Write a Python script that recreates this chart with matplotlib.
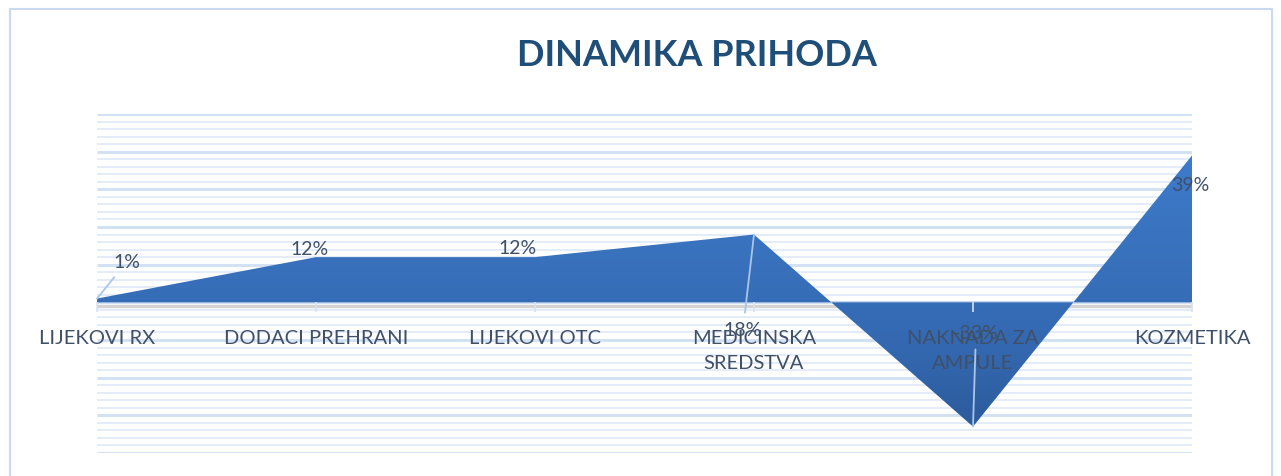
import numpy as np
import matplotlib
matplotlib.use("Agg")
import matplotlib.pyplot as plt
from matplotlib.patches import Rectangle

# ---------------------------
# Data
# ---------------------------
categories = ["LIJEKOVI RX", "DODACI PREHRANI", "LIJEKOVI OTC",
              "MEDICINSKA\nSREDSTVA", "NAKNADA ZA\nAMPULE", "KOZMETIKA"]
values = [1, 12, 12, 18, -33, 39]
value_labels = ["1%", "12%", "12%", "18%", "-33%", "39%"]
# label offsets in pixels (dx, dy) from the data point, as Excel placed them
label_offsets = [(30, 37), (-6, 9), (-17, 10), (-11, -95), (3, 94), (-2, -29)]

title_color = "#1F4E79"
text_color = "#3F5068"
grid_minor = "#E3ECF8"
grid_major = "#D2E1F4"
leader_color = "#A9C6EA"

plt.rcParams["font.family"] = ["Lato", "DejaVu Sans"]

fig = plt.figure(figsize=(12.81, 4.77), dpi=100)
ax = fig.add_axes([97 / 1281, 1 - 454 / 477, (1192 - 97) / 1281, (454 - 115) / 477])

x = np.arange(len(values))

# ---------------------------
# Grid (drawn by hand so it sits below the area but tick labels stay on top)
# ---------------------------
ax.set_ylim(-40, 50)
ax.set_xlim(0, len(values) - 1)
minor_y = [y for y in np.arange(-40, 51, 2) if y % 10 != 0]
major_y = np.arange(-40, 51, 10)
ax.hlines(minor_y, 0, len(values) - 1, color=grid_minor, lw=1.4, zorder=0.5)
ax.hlines(major_y, 0, len(values) - 1, color=grid_major, lw=2.2, zorder=0.6)
ax.set_yticks([])
ax.set_axisbelow(False)  # category labels on top of the area

# ---------------------------
# Area with vertical gradient
# ---------------------------
area = ax.fill_between(x, values, 0, color="none", lw=0, zorder=2)
grad = np.linspace(0, 1, 256).reshape(-1, 1)
cmap = matplotlib.colors.LinearSegmentedColormap.from_list(
    "blues", ["#2A5796", "#3469B2", "#3A74C0", "#3F7FD2"])
img = ax.imshow(grad, extent=[0, len(values) - 1, -40, 50], origin="lower",
                aspect="auto", cmap=cmap, zorder=2)
img.set_clip_path(area.get_paths()[0], transform=ax.transData)
area.remove()

# shadow + axis line at zero
ax.axhline(-0.9, color="#B0B0B0", lw=2.5, alpha=0.55, zorder=1.5)
ax.axhline(0, color="#C5D7EF", lw=1.5, zorder=1.6)

for s in ["top", "right", "left", "bottom"]:
    ax.spines[s].set_visible(False)
ax.spines["bottom"].set_position(("data", 0))

ax.set_xticks(x)
ax.set_xticklabels(categories, fontsize=14.5, color=text_color, linespacing=1.6)
ax.tick_params(axis="x", direction="out", length=7, width=1.2,
               color="#D6E3F5", pad=12)

# ---------------------------
# Data labels with leader lines
# ---------------------------
for xi, v, lab, (dx, dy) in zip(x, values, value_labels, label_offsets):
    ax.annotate(lab, xy=(xi, v), xytext=(dx, dy), textcoords="offset pixels",
                ha="center", va="center", fontsize=14, color=text_color,
                zorder=5,
                arrowprops=dict(arrowstyle="-", color=leader_color, lw=1.3,
                                shrinkA=4, shrinkB=0) if abs(dy) > 30 else None)

fig.text(697 / 1281, 1 - 55 / 477, "DINAMIKA PRIHODA", ha="center",
         va="center", fontsize=26, fontweight="bold", color=title_color)

# chart frame
fig.patches.append(Rectangle((10 / 1281, -0.1), 1262 / 1281, 1.1 - 10 / 477,
                             transform=fig.transFigure, fill=False,
                             ec="#C9DAF0", lw=1.5))

fig.savefig("out.png", dpi=100)
